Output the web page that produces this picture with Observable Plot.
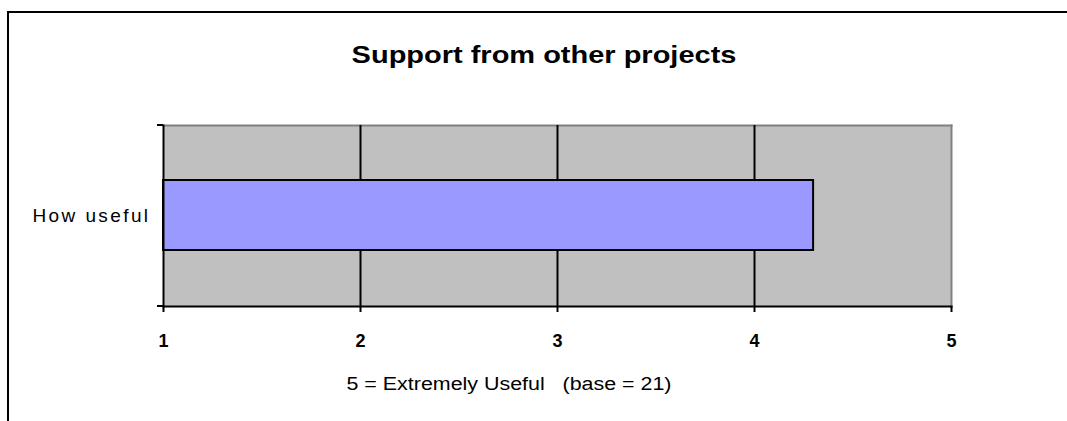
<!DOCTYPE html>
<html>
<head>
<meta charset="utf-8">
<script src="https://cdn.jsdelivr.net/npm/d3@7"></script>
<script src="https://cdn.jsdelivr.net/npm/@observablehq/plot@0.6"></script>
<style>
  html, body { margin: 0; padding: 0; background: #fff; overflow: hidden; }
  #page { position: relative; width: 1067px; height: 421px; font-family: "Liberation Sans", Arial, sans-serif; }
  #border { position: absolute; left: 7px; top: 11px; width: 1100px; height: 450px;
            border-top: 2.5px solid #000; border-left: 2.5px solid #000; }
  #chart { position: absolute; left: 0; top: 0; }
  .label { position: absolute; white-space: pre; line-height: 1; color: #000;
           transform-origin: center; }
  #title { font-size: 23px; font-weight: bold; left: 544px; top: 44px; transform: translateX(-50%) scaleX(1.26); }
  #caption { font-size: 18px; left: 509px; top: 375px; transform: translateX(-50%) scaleX(1.19); }
  /* category label is drawn with open letter spacing */
  #chart svg g[aria-label="y-axis tick label"] text { letter-spacing: 2.4px; }
</style>
</head>
<body>
<div id="page">
  <div id="border"></div>
  <div id="chart"></div>
  <div id="title" class="label"></div>
  <div id="caption" class="label"></div>
</div>
<script>
// Survey item and its mean rating on a 1–5 scale
const questions = ["How useful"];
const meanScores = [4.3];
const scaleTicks = [1, 2, 3, 4, 5];
const gridValues = [2, 3, 4];
const scaleMin = 1;
const titleText = "Support from other projects";
const captionText = "5 = Extremely Useful   (base = 21)";

const rows = questions.map((q, i) => ({question: q, score: meanScores[i]}));

document.getElementById("title").textContent = titleText;
document.getElementById("caption").textContent = captionText;

// Short ticks at the top and bottom of the category axis
function categoryBoundaryTicks(index, scales, values, dimensions) {
  const {marginLeft, marginTop, height, marginBottom} = dimensions;
  const g = d3.create("svg:g").attr("stroke", "#000").attr("stroke-width", 2);
  for (const y of [marginTop, height - marginBottom]) {
    g.append("line")
      .attr("x1", marginLeft - 6).attr("x2", marginLeft)
      .attr("y1", y).attr("y2", y);
  }
  return g.node();
}

const chart = Plot.plot({
  width: 1067,
  height: 360,
  marginLeft: 163,
  marginRight: 116,
  marginTop: 125,
  marginBottom: 54,
  style: {fontFamily: "'Liberation Sans', Arial, sans-serif", color: "#000", background: "transparent"},
  x: {type: "linear", domain: [1, 5], axis: null, label: null},
  y: {type: "band", domain: questions, padding: 0.437, axis: null, label: null},
  marks: [
    Plot.frame({fill: "#C0C0C0", stroke: "none"}),
    Plot.frame({anchor: "top", stroke: "#808080", strokeWidth: 2}),
    Plot.frame({anchor: "right", stroke: "#808080", strokeWidth: 2}),
    Plot.ruleX(gridValues, {stroke: "#000", strokeWidth: 2}),
    Plot.barX(rows, {x1: scaleMin, x2: "score", y: "question", fill: "#9999FF", stroke: "#000", strokeWidth: 2}),
    Plot.frame({anchor: "bottom", stroke: "#000", strokeWidth: 2}),
    Plot.frame({anchor: "left", stroke: "#000", strokeWidth: 2}),
    Plot.axisX({
      ticks: scaleTicks, tickFormat: d3.format("d"), tickSize: 6, tickPadding: 22,
      label: null, stroke: "#000", strokeWidth: 2, strokeOpacity: 1,
      fontSize: 18, fontWeight: "bold", fill: "#000"
    }),
    Plot.axisY({
      tickSize: 0, tickPadding: 13, label: null, fontSize: 19, fill: "#000"
    }),
    categoryBoundaryTicks
  ]
});

document.getElementById("chart").appendChild(chart);
</script>
</body>
</html>
